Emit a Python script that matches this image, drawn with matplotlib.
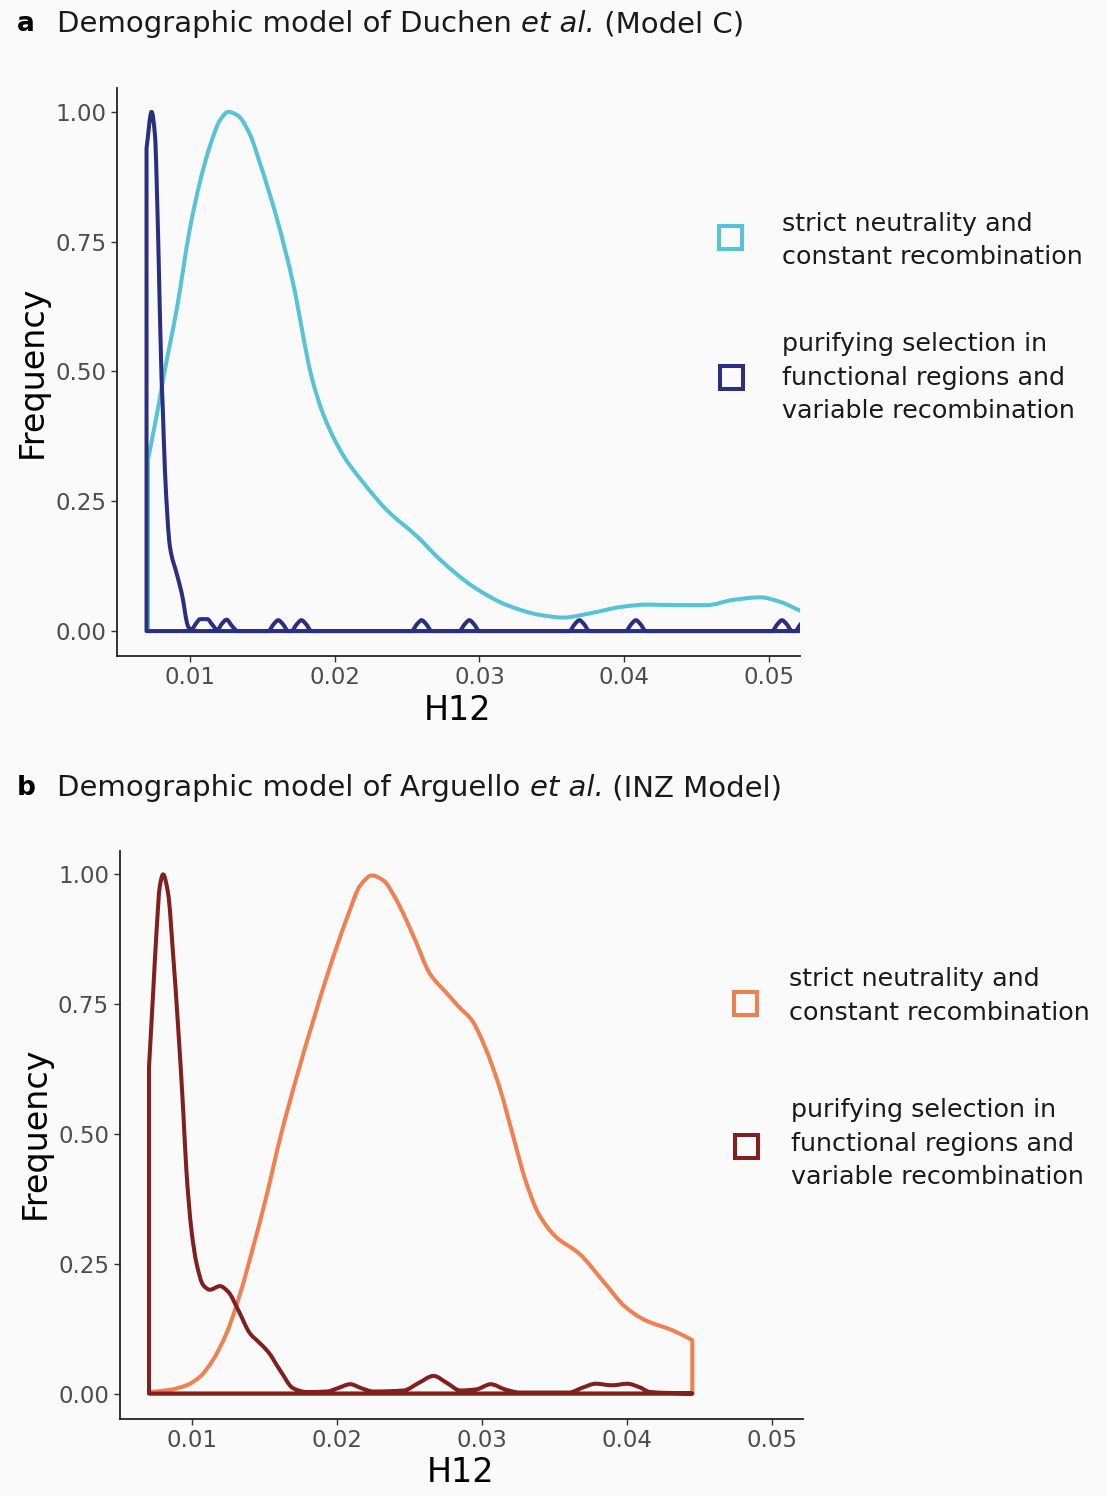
import matplotlib
matplotlib.use("Agg")
import matplotlib.pyplot as plt
from matplotlib.patches import Rectangle, PathPatch
from matplotlib.path import Path

W, H = 1107, 1496
BG = "#fafafa"

# panel a: Duchen et al. (Model C) -- upper outline of each density
a_neutral_x = [0.0071, 0.0079, 0.0082, 0.0091, 0.0100, 0.0107, 0.0114, 0.0121, 0.01265, 0.0133,
               0.01415, 0.0148, 0.0160, 0.0171, 0.0184, 0.0192, 0.0206, 0.0220, 0.0236, 0.0257,
               0.0273, 0.0296, 0.0319, 0.0342, 0.0358, 0.0376, 0.0399, 0.0416, 0.0434, 0.0457,
               0.0475, 0.0494, 0.0508, 0.0521, 0.0530]
a_neutral_y = [0.33, 0.445, 0.493, 0.622, 0.776, 0.866, 0.936, 0.985, 1.0, 0.993,
               0.956, 0.904, 0.795, 0.673, 0.490, 0.418, 0.338, 0.285, 0.233, 0.182,
               0.137, 0.085, 0.050, 0.031, 0.026, 0.034, 0.047, 0.051, 0.050, 0.050,
               0.060, 0.065, 0.056, 0.040, 0.030]

a_purif_x = [0.0070, 0.00735, 0.00758, 0.00781, 0.00804, 0.00811, 0.00827, 0.00862, 0.00908,
             0.00943, 0.00989, 0.0101, 0.01045, 0.0107, 0.0112, 0.01155, 0.0119, 0.0122, 0.01253,
             0.0129, 0.0133,
             0.0154, 0.0158, 0.0161, 0.0164, 0.0168,
             0.0170, 0.0174, 0.0177, 0.0180, 0.0184,
             0.0253, 0.0257, 0.0260, 0.0263, 0.0267,
             0.0286, 0.0290, 0.0293, 0.0296, 0.0300,
             0.0362, 0.0366, 0.0369, 0.0372, 0.0376,
             0.0401, 0.0405, 0.0408, 0.0411, 0.0415,
             0.0502, 0.0506, 0.0509, 0.0512, 0.0516,
             0.0518, 0.0522, 0.0525, 0.0528, 0.0532]
a_purif_y = [0.93, 1.0, 0.956, 0.75, 0.484, 0.439, 0.310, 0.162, 0.111,
             0.073, 0.008, 0.003, 0.016, 0.023, 0.023, 0.012, 0.002, 0.014, 0.022,
             0.010, 0.0,
             0.0, 0.014, 0.021, 0.014, 0.0,
             0.0, 0.014, 0.021, 0.014, 0.0,
             0.0, 0.014, 0.021, 0.014, 0.0,
             0.0, 0.014, 0.021, 0.014, 0.0,
             0.0, 0.014, 0.021, 0.014, 0.0,
             0.0, 0.014, 0.021, 0.014, 0.0,
             0.0, 0.014, 0.021, 0.014, 0.0,
             0.0, 0.014, 0.021, 0.014, 0.0]

# panel b: Arguello et al. (INZ Model)
b_neutral_x = [0.0070, 0.0084, 0.0096, 0.0105, 0.0114, 0.01235, 0.0133, 0.0142, 0.0151, 0.0161,
               0.0172, 0.01835, 0.0195, 0.0207, 0.0216, 0.0224, 0.0232, 0.0241, 0.0253, 0.0264,
               0.0276, 0.0284, 0.0293, 0.0302, 0.0312, 0.0321, 0.0330, 0.0339, 0.0351, 0.0367,
               0.0385, 0.0399, 0.0413, 0.04315, 0.04453]
b_neutral_y = [0.003, 0.007, 0.016, 0.032, 0.064, 0.116, 0.193, 0.283, 0.379, 0.497,
               0.610, 0.719, 0.822, 0.918, 0.979, 0.998, 0.988, 0.950, 0.879, 0.809,
               0.770, 0.745, 0.719, 0.668, 0.591, 0.501, 0.411, 0.347, 0.302, 0.270,
               0.212, 0.167, 0.141, 0.122, 0.103]

b_purif_x = [0.0070, 0.00728, 0.00751, 0.00774, 0.00797, 0.00832, 0.00866, 0.00901, 0.00936,
             0.00958, 0.00993, 0.01028, 0.01074, 0.0112, 0.0119, 0.01247, 0.01316, 0.01397, 0.01466,
             0.01524, 0.01605, 0.01697, 0.01789, 0.0193, 0.0200, 0.0209, 0.0217, 0.0225, 0.0246,
             0.0256, 0.02666, 0.0276, 0.0285, 0.0296, 0.0306, 0.0316, 0.0326, 0.0360, 0.0370,
             0.03785, 0.0390, 0.04003, 0.0409, 0.0416, 0.04453]
b_purif_y = [0.63, 0.77, 0.886, 0.976, 1.0, 0.963, 0.847, 0.706, 0.546,
             0.43, 0.315, 0.251, 0.209, 0.200, 0.207, 0.196, 0.161, 0.116, 0.097,
             0.080, 0.045, 0.010, 0.003, 0.004, 0.010, 0.018, 0.010, 0.004, 0.006,
             0.020, 0.034, 0.020, 0.006, 0.008, 0.018, 0.008, 0.002, 0.002, 0.012,
             0.019, 0.016, 0.019, 0.012, 0.003, 0.0]

x_ticks = [0.01, 0.02, 0.03, 0.04, 0.05]
y_ticks = [0.0, 0.25, 0.50, 0.75, 1.00]
legend_labels = ["strict neutrality and\nconstant recombination",
                 "purifying selection in\nfunctional regions and\nvariable recombination"]

CYAN, NAVY = "#57c3d6", "#2c2f80"
ORANGE, DARKRED = "#f0804f", "#821f20"


def fx(x):
    return x / W


def fy(y):
    return 1 - y / H


def setup_axes(ax):
    ax.set_facecolor(BG)
    ax.set_xlim(0.00496, 0.05214)
    ax.set_ylim(-0.048, 1.046)
    for s in ("top", "right"):
        ax.spines[s].set_visible(False)
    for s in ("left", "bottom"):
        ax.spines[s].set_color("#222222")
        ax.spines[s].set_linewidth(1.3)
    ax.set_xticks(x_ticks)
    ax.set_xticklabels([f"{t:.2f}" for t in x_ticks])
    ax.set_yticks(y_ticks)
    ax.set_yticklabels([f"{t:.2f}" for t in y_ticks])
    ax.tick_params(length=4.5, width=1.0, color="#333333", labelcolor="#4d4d4d",
                   labelsize=16.5, pad=3)


def slopes(xs, ys):
    # monotone (Fritsch-Carlson) tangents so the outline never overshoots
    n = len(xs)
    h = [xs[i + 1] - xs[i] for i in range(n - 1)]
    d = [(ys[i + 1] - ys[i]) / h[i] for i in range(n - 1)]
    m = [d[0]] + [0.0] * (n - 2) + [d[-1]]
    for i in range(1, n - 1):
        if d[i - 1] * d[i] > 0:
            w1 = 2 * h[i] + h[i - 1]
            w2 = h[i] + 2 * h[i - 1]
            m[i] = (w1 + w2) / (w1 / d[i - 1] + w2 / d[i])
    return h, m


def draw_density(ax, xs, ys, color):
    # closed outline like geom_density: left edge, smooth top, right edge, baseline
    h, m = slopes(xs, ys)
    verts = [(xs[0], 0.0), (xs[0], ys[0])]
    codes = [Path.MOVETO, Path.LINETO]
    for i in range(len(xs) - 1):
        verts += [(xs[i] + h[i] / 3, ys[i] + m[i] * h[i] / 3),
                  (xs[i + 1] - h[i] / 3, ys[i + 1] - m[i + 1] * h[i] / 3),
                  (xs[i + 1], ys[i + 1])]
        codes += [Path.CURVE4] * 3
    verts += [(xs[-1], 0.0), (xs[0], 0.0), (xs[0], 0.0)]
    codes += [Path.LINETO, Path.LINETO, Path.CLOSEPOLY]
    patch = PathPatch(Path(verts, codes), facecolor="none", edgecolor=color, lw=2.9,
                      joinstyle="round", capstyle="round")
    ax.add_patch(patch)


def panel_title(fig, y, letter, pre, ital, post):
    r = fig.canvas.get_renderer()
    fig.text(fx(17), fy(y), letter, fontsize=19, fontweight="bold", va="center", ha="left")
    x = 57
    for txt, style in ((pre, "normal"), (ital, "italic"), (post, "normal")):
        t = fig.text(fx(x), fy(y), txt, fontsize=21, style=style, va="center", ha="left",
                     color="#1a1a1a")
        x += t.get_window_extent(r).width


def legend_box(fig, cx, cy, color):
    s = 23
    fig.patches.append(Rectangle((fx(cx - s / 2), fy(cy + s / 2)), s / W, s / H,
                                 transform=fig.transFigure, facecolor="none",
                                 edgecolor=color, lw=2.9))


fig = plt.figure(figsize=(W / 100, H / 100), dpi=100, facecolor=BG)

ax_a = fig.add_axes([fx(117), fy(656), 683 / W, 568 / H])
setup_axes(ax_a)
draw_density(ax_a, a_neutral_x, a_neutral_y, CYAN)
draw_density(ax_a, a_purif_x, a_purif_y, NAVY)

ax_b = fig.add_axes([fx(119.5), fy(1418.5), 683 / W, 568 / H])
setup_axes(ax_b)
draw_density(ax_b, b_neutral_x, b_neutral_y, ORANGE)
draw_density(ax_b, b_purif_x, b_purif_y, DARKRED)

fig.canvas.draw()
panel_title(fig, 24, "a", "Demographic model of Duchen ", "et al.", " (Model C)")
panel_title(fig, 788, "b", "Demographic model of Arguello ", "et al.", " (INZ Model)")

# axis titles
for (hx, hy), (fqx, fqy) in (((458, 710), (32, 372)), ((461, 1472), (35, 1133))):
    fig.text(fx(hx), fy(hy), "H12", fontsize=24, ha="center", va="center")
    fig.text(fx(fqx), fy(fqy), "Frequency", fontsize=24, ha="center", va="center",
             rotation=90)

# legends
legend_box(fig, 730, 237, CYAN)
legend_box(fig, 731, 377, NAVY)
fig.text(fx(782), fy(240.5), legend_labels[0], fontsize=18.3, va="center", ha="left",
         color="#1a1a1a", linespacing=1.5)
fig.text(fx(782), fy(378), legend_labels[1], fontsize=18.3, va="center", ha="left",
         color="#1a1a1a", linespacing=1.5)

legend_box(fig, 745, 1003, ORANGE)
legend_box(fig, 746, 1146, DARKRED)
fig.text(fx(789), fy(996), legend_labels[0], fontsize=18.3, va="center", ha="left",
         color="#1a1a1a", linespacing=1.5)
fig.text(fx(791), fy(1144), legend_labels[1], fontsize=18.3, va="center", ha="left",
         color="#1a1a1a", linespacing=1.5)

fig.savefig("out.png", dpi=100, facecolor=BG)
